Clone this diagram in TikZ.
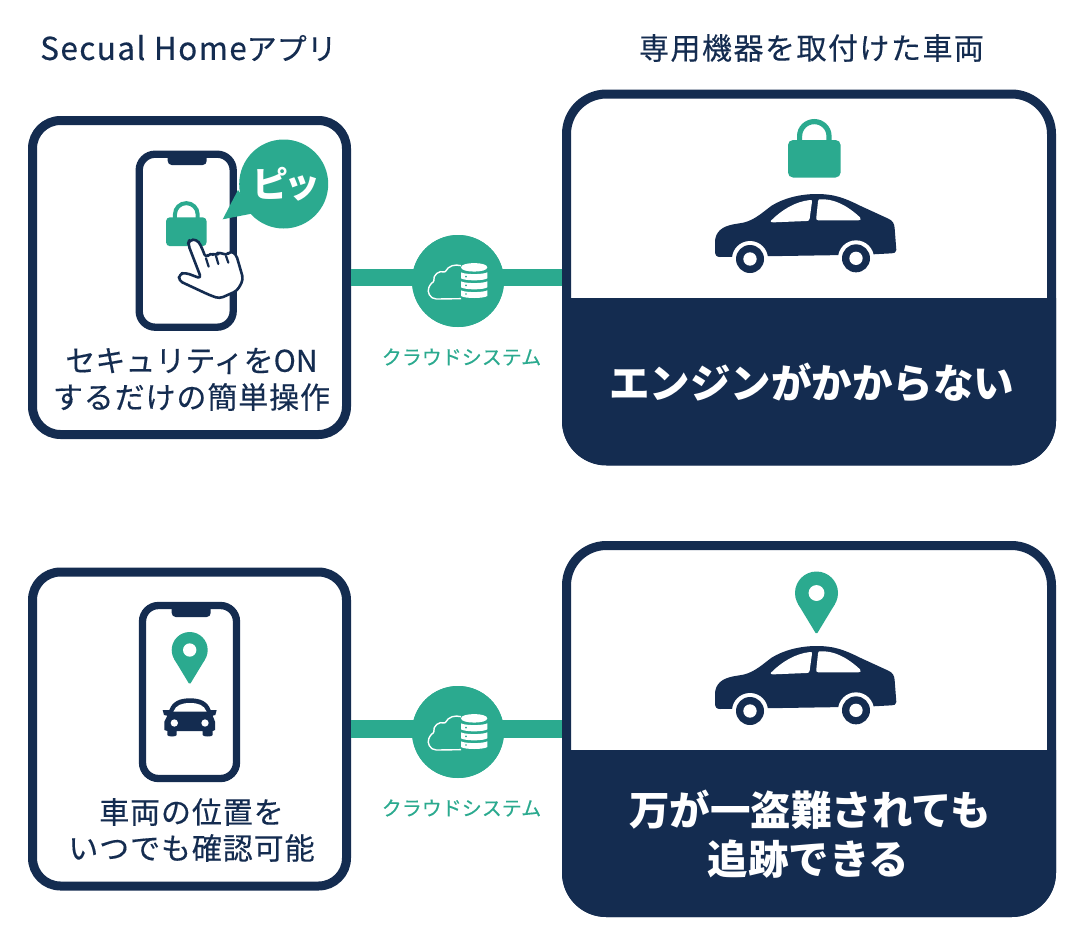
\documentclass[tikz,border=0pt]{standalone}
\usepackage{fontspec}
\setmainfont{Noto Sans CJK JP}
\newfontfamily\jp[RawFeature=+palt]{Noto Sans CJK JP}
\definecolor{navy}{HTML}{142C50}
\definecolor{teal2}{HTML}{2BAA8F}
\newcommand{\fs}[1]{\fontsize{#1}{#1}\selectfont}
\tikzset{
  x=1pt,y=-1pt,
  leftbox/.style={draw=navy,line width=9pt,rounded corners=28pt,fill=white,minimum width=314pt,minimum height=314pt,inner sep=0pt,outer sep=0pt},
  rightbox/.style={draw=navy,line width=9pt,rounded corners=40pt,fill=white,minimum width=485pt,minimum height=367pt,inner sep=0pt,outer sep=0pt},
  phonebox/.style={draw=navy,line width=7.3pt,rounded corners=16pt,fill=white,minimum width=94pt,minimum height=173pt,inner sep=0pt,outer sep=0pt},
  cloudnode/.style={circle,fill=teal2,minimum size=92pt,inner sep=0pt,outer sep=0pt},
  bar/.style={draw=teal2,line width=17.5pt,shorten <=4.5pt},
  titletext/.style={text=navy,font=\fs{30}\addfontfeature{LetterSpace=5,FakeBold=0.3}},
  bodytext/.style={text=navy,font=\fs{30}\addfontfeature{LetterSpace=3,FakeBold=0.3}},
  bigtext/.style={text=white,font=\fs{40.5}\bfseries},
  cloudlabel/.style={text=teal2,font=\fs{20}\addfontfeature{FakeBold=0.3}},
}
\newcommand{\carside}[2]{%
\begin{scope}[shift={(#1,#2)},scale=1/3]
\fill[navy] (45,425) -- (45,392) .. controls (48,365) and (65,350) .. (100,343) -- (130,338) .. controls (165,330) and (190,305) .. (215,287) .. controls (250,265) and (300,252) .. (350,252) .. controls (400,252) and (430,262) .. (480,287) -- (565,326) .. controls (578,332) and (583,340) .. (584,355) -- (589,420) .. controls (589,428) and (582,430) .. (575,430) -- (500,434) -- (120,440) -- (60,441) .. controls (50,441) and (45,435) .. (45,425) -- cycle;
\fill[white] (213,332) .. controls (245,300) and (285,275) .. (330,270) .. controls (335,270) and (337,271) .. (336,275) -- (329,326) .. controls (328,332) and (325,333) .. (320,333) -- (222,337) .. controls (212,337) and (210,335) .. (213,332) -- cycle;
\fill[white] (358,268) .. controls (400,265) and (440,285) .. (480,322) .. controls (484,328) and (482,331) .. (475,331) -- (355,331) .. controls (349,331) and (348,327) .. (349,322) -- (354,275) .. controls (355,270) and (356,268) .. (358,268) -- cycle;
\fill[white] (150,447) circle (54) (468,445) circle (54);
\fill[white] (90,442) rectangle (110,500) (190,442) rectangle (210,500) (410,442) rectangle (425,500) (510,436) rectangle (530,500);
\fill[navy] (150,447) circle (42) (468,445) circle (42);
\fill[white] (150,447) circle (20) (468,445) circle (20);
\end{scope}}
% x centre, top of lock body, scale relative to big lock
\newcommand{\padlock}[3]{%
\begin{scope}[shift={(#1,#2)},scale=#3]
\draw[teal2,line width=#3*5.2pt] (-14.7,2) -- (-14.7,-4) .. controls (-14.7,-12) and (-8,-18.4) .. (0,-18.4) .. controls (8,-18.4) and (14.7,-12) .. (14.7,-4) -- (14.7,2);
\fill[teal2,rounded corners=#3*5pt] (-26.3,0) rectangle (26.3,37.5);
\end{scope}}
\newcommand{\mappin}[3]{%
\begin{scope}[shift={(#1,#2)},scale=#3]
\fill[teal2] (0,0) circle (1);
\fill[teal2] (0,0) -- (-.855,.518) [rounded corners=1.5pt] -- (0,1.93) [sharp corners] -- (.855,.518) -- cycle;
\fill[white] (0,0) circle (.37);
\end{scope}}
\newcommand{\cloudicon}[2]{%
\begin{scope}[shift={(#1,#2)},scale=1/3]
\draw[white,line width=1.4pt,rounded corners=1pt] (243,221) -- (172,222) .. controls (150,222) and (140,200) .. (148,185) .. controls (152,175) and (158,172) .. (162,170) .. controls (158,150) and (178,135) .. (195,142) .. controls (205,122) and (225,117) .. (243,122);
\fill[white] (243,127) .. controls (243,110) and (322,110) .. (322,127) .. controls (322,144) and (243,144) .. (243,127) -- cycle;
\foreach \a/\b in {133/160,160/187,187/213}{
\fill[white] (243,\a+9) .. controls (255,\a+16) and (310,\a+16) .. (322,\a+9) -- (322,\b) .. controls (310,\b+8) and (255,\b+8) .. (243,\b) -- cycle;}
\fill[teal2] (258,155) circle (2.8) (258,181) circle (2.8) (258,207) circle (2.8);
\end{scope}}
\begin{document}
\begin{tikzpicture}
\useasboundingbox (0,0) rectangle (1080,943);
\fill[white] (0,0) rectangle (1080,943);
% titles
\node[text=navy,font=\fs{30}\addfontfeature{FakeBold=0.3},inner sep=0pt] (t1) at (188.5,48) {{\fs{31.5}\addfontfeature{LetterSpace=4.5}Secual Home}アプリ};
\node[titletext,inner sep=0pt] (t2) at (811.5,48) {専用機器を取付けた車両};
% row 1 boxes
\node[leftbox] (b1) at (189.5,277.5) {};
\node[rightbox] (r1) at (809,277.5) {};
\fill[navy] (562,298) -- (1056,298) {[rounded corners=44pt] -- (1056,465) -- (562,465)} -- cycle;
\node[cloudnode] (c1) at (458,281) {};
\draw[bar] (b1.east) -- (b1.east -| c1.center);
\draw[bar] (r1.west) -- (r1.west -| c1.center);
\node[cloudnode] at (c1.center) {};
\cloudicon{380}{225}
\node[cloudlabel,inner sep=0pt] (l1) at (461.5,357) {クラウドシステム};
% phone 1
\node[phonebox] (p1) at (186.2,240.7) {};
\fill[navy,rounded corners=4pt] (167.7,151) -- (167.7,165) -- (206.7,165) -- (206.7,151) -- cycle;
\padlock{186.3}{217.3}{.77}
% bubble
\fill[teal2] (283.7,184) circle (44.5);
\fill[teal2] (222.7,219.3) -- (238,190) -- (255,213) -- cycle;
\node[text=white,font=\fs{36}\bfseries\jp,inner sep=0pt] (ps) at (286,184) {ピッ};
% hand
\begin{scope}[shift={(130,130)},scale=1/3]
\draw[navy,fill=white,line width=2.6pt,line join=round,rounded corners=4pt] (174,342) -- (178,330) -- (200,328) -- (212,345) -- (228,385) -- (240,368) -- (258,378) -- (268,364) -- (288,378) -- (302,362) -- (318,372) -- (340,448) -- (322,482) -- (268,506) -- (236,494) -- (146,452) -- (148,432) -- (166,428) -- (214,446) -- cycle;
\draw[navy,line width=2.2pt,line cap=round] (228,385) -- (236,410) (258,378) -- (265,402) (288,378) -- (295,398);
\end{scope}
\node[text=navy,font=\fs{30}\addfontfeature{FakeBold=0.3},inner sep=0pt] (tx1) at (191.5,361) {セキュリティをON};
\node[bodytext,inner sep=0pt] (tx2) at (191.5,397) {するだけの簡単操作};
% right 1
\padlock{814.3}{140}{1}
\carside{700}{110}
\node[bigtext,inner sep=0pt] (bt1) at (811.5,383) {エンジンがかからない};
% row 2 boxes
\node[leftbox] (b2) at (189.5,729) {};
\node[rightbox] (r2) at (809,729) {};
\fill[navy] (562,750) -- (1056,750) {[rounded corners=44pt] -- (1056,917) -- (562,917)} -- cycle;
\node[cloudnode] (c2) at (458,732) {};
\draw[bar] (b2.east) -- (b2.east -| c2.center);
\draw[bar] (r2.west) -- (r2.west -| c2.center);
\node[cloudnode] at (c2.center) {};
\cloudicon{380}{676}
\node[cloudlabel,inner sep=0pt] (l2) at (461.5,808) {クラウドシステム};
% phone 2
\node[phonebox] (p2) at (189.5,692) {};
\fill[navy,rounded corners=4pt] (171.7,603) -- (171.7,617) -- (210.7,617) -- (210.7,603) -- cycle;
\mappin{189.7}{650}{18}
\begin{scope}[shift={(130,595)},scale=1/3]
\fill[navy] (98,345) -- (118,345) .. controls (128,318) and (150,310) .. (180,310) .. controls (210,310) and (232,318) .. (242,345) -- (260,345) -- (256,360) -- (248,362) -- (255,380) -- (255,405) -- (248,408) -- (248,420) .. controls (248,426) and (218,426) .. (218,420) -- (218,408) -- (140,408) -- (140,420) .. controls (140,426) and (112,426) .. (112,420) -- (112,408) -- (103,405) -- (103,380) -- (112,362) -- (102,360) -- cycle;
\fill[white] (130,350) .. controls (138,330) and (155,324) .. (180,324) .. controls (205,324) and (222,330) .. (230,350) -- cycle;
\fill[white] (133,384) circle (11) (225,384) circle (11);
\end{scope}
\node[bodytext,inner sep=0pt] (tx3) at (191.5,812) {車両の位置を};
\node[bodytext,inner sep=0pt] (tx4) at (191.5,848) {いつでも確認可能};
% right 2
\mappin{816.5}{593}{21.5}
\carside{700}{562}
\node[bigtext,inner sep=0pt] (bt2) at (810,809.5) {万が一盗難されても};
\node[bigtext,inner sep=0pt] (bt3) at (808.5,859.5) {追跡できる};
\end{tikzpicture}
\end{document}
